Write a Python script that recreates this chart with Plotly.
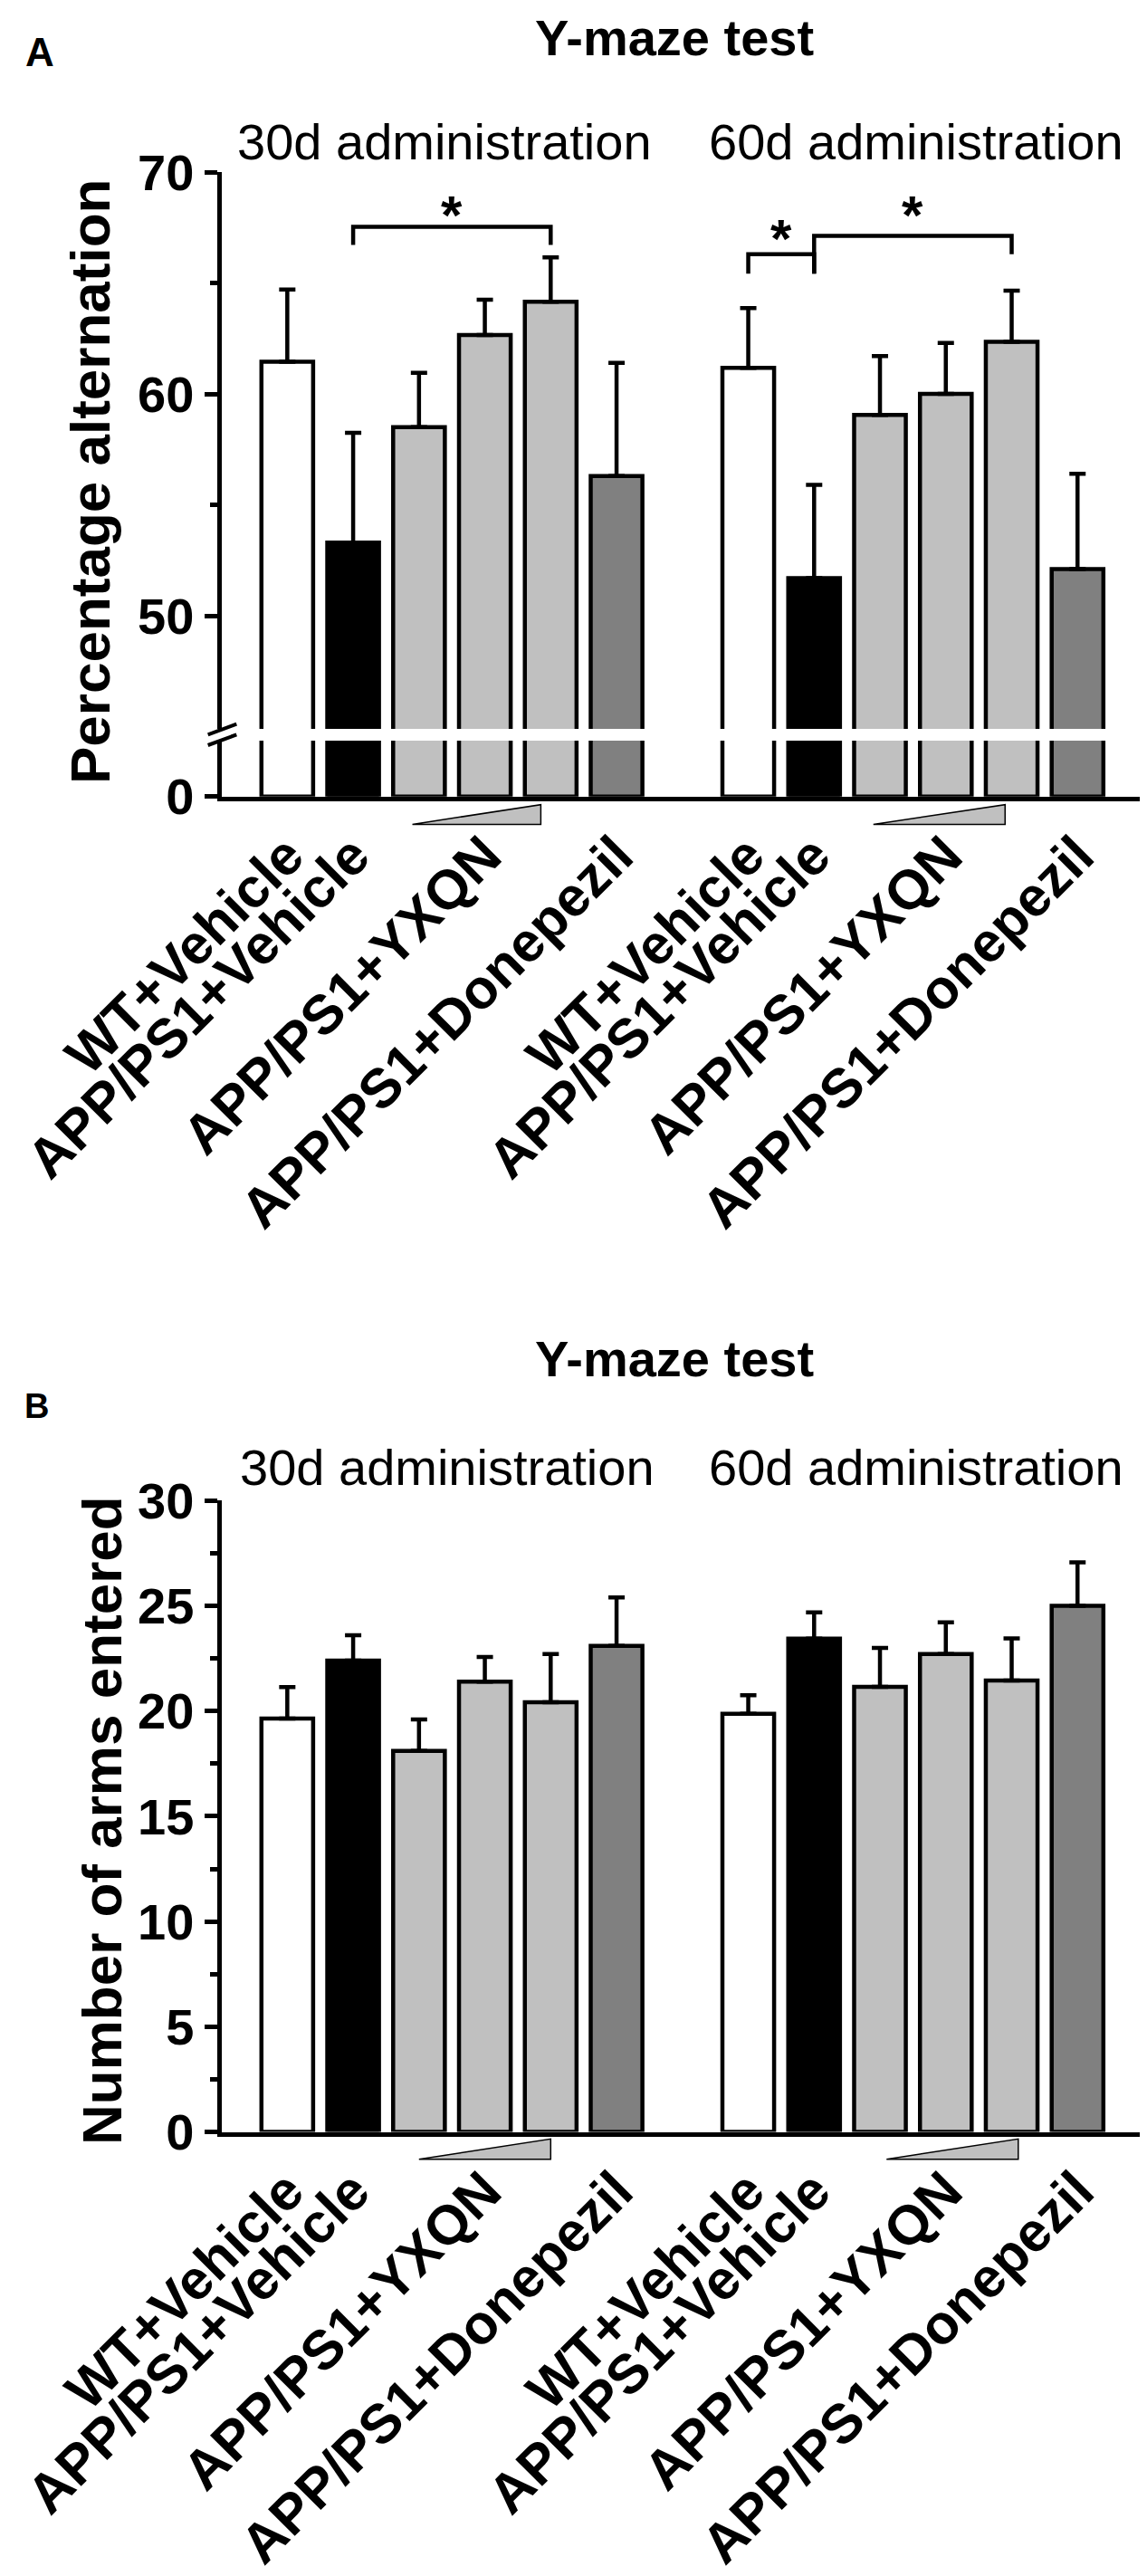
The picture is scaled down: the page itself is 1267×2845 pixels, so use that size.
import plotly.graph_objects as go

# group labels and bar positions (30d group left, 60d group right)
labels = ["WT+Vehicle", "APP/PS1+Vehicle", "APP/PS1+YXQN", "APP/PS1+Donepezil"]
bar_pos = [0, 1, 2, 3, 4, 5, 7, 8, 9, 10, 11, 12]
label_pos = [0, 1, 3, 5, 7, 8, 10, 12]
bar_colors = ["#ffffff", "#000000", "#c0c0c0", "#c0c0c0", "#c0c0c0", "#808080"] * 2

# A: percentage alternation (mean, SEM)
alt_mean = [61.45, 53.3, 58.5, 62.65, 64.15, 56.3,
            61.17, 51.7, 59.05, 60.0, 62.35, 52.1]
alt_sem = [3.25, 4.95, 2.45, 1.6, 2.0, 5.1,
           2.7, 4.2, 2.65, 2.3, 2.3, 4.3]

# B: number of arms entered (mean, SEM)
arms_mean = [19.64, 22.4, 18.1, 21.4, 20.42, 23.1,
             19.87, 23.44, 21.15, 22.71, 21.45, 25.0]
arms_sem = [1.5, 1.2, 1.5, 1.17, 2.29, 2.3,
            0.88, 1.25, 1.85, 1.5, 2.0, 2.07]

# significance brackets in panel A: x points, y points
brackets = [
    ([1, 1, 4, 4], [66.71, 67.53, 67.53, 66.71]),
    ([7, 7, 8, 8], [65.42, 66.30, 66.30, 65.42]),
    ([8, 8, 11, 11], [65.42, 67.12, 67.12, 66.30]),
]
stars_x = [2.5, 7.5, 9.5]
stars_y = [68.05, 66.99, 68.05]

W, H = 1267, 2845
FONT = "Liberation Sans, Arial, sans-serif"


def fx(p):
    return p / W


def fy(p):
    return 1 - p / H


x_dom = [fx(236.6), fx(1255)]
yA_up = [fy(797), fy(182)]
yA_lo = [fy(871.7), fy(810)]
yB = [fy(2346.5), fy(1649.3)]

fig = go.Figure()

bar_style = dict(width=0.785, marker=dict(color=bar_colors, line=dict(color="black", width=4.5)))
err_style = dict(type="data", symmetric=False, arrayminus=[0] * 12,
                 color="black", thickness=4.5, width=9)

# panel A, upper part of the broken axis
fig.add_trace(go.Bar(x=bar_pos, y=alt_mean, xaxis="x", yaxis="y",
                     error_y=dict(array=alt_sem, **err_style), **bar_style))
# panel A, lower stub
fig.add_trace(go.Bar(x=bar_pos, y=alt_mean, xaxis="x2", yaxis="y2", **bar_style))
# panel B
fig.add_trace(go.Bar(x=bar_pos, y=arms_mean, xaxis="x3", yaxis="y3",
                     error_y=dict(array=arms_sem, **err_style), **bar_style))

for bx, by in brackets:
    fig.add_trace(go.Scatter(x=bx, y=by, mode="lines", xaxis="x", yaxis="y",
                             line=dict(color="black", width=4.5), cliponaxis=False))

tickfont = dict(family=FONT, size=56, color="black", weight="bold")
labfont = dict(family=FONT, size=61, color="black", weight="bold")
yline = dict(showline=True, linecolor="black", linewidth=5, ticks="outside",
             ticklen=14, tickwidth=5, tickcolor="black", tickfont=tickfont,
             showgrid=False, zeroline=False, automargin=False)
xhidden = dict(range=[-1, 13], domain=x_dom, visible=False, showgrid=False, zeroline=False)
xshown = dict(range=[-1, 13], domain=x_dom, showline=True, linecolor="black", linewidth=5,
              ticks="", tickvals=label_pos, ticktext=labels * 2, tickangle=-45,
              tickfont=labfont, showgrid=False, zeroline=False, automargin=False)

fig.update_layout(
    width=W, height=H,
    margin=dict(l=0, r=0, t=0, b=0),
    paper_bgcolor="white", plot_bgcolor="white",
    showlegend=False, template="none",
    xaxis=dict(anchor="y", **xhidden),
    yaxis=dict(anchor="x", domain=yA_up, range=[44.9, 70], tickvals=[50, 60, 70],
               minor=dict(tickvals=[55, 65], ticks="outside", ticklen=8, tickwidth=5,
                          tickcolor="black"), **yline),
    xaxis2=dict(anchor="y2", **xshown),
    yaxis2=dict(anchor="x2", domain=yA_lo, range=[0, 2.518], tickvals=[0], **yline),
    xaxis3=dict(anchor="y3", **xshown),
    yaxis3=dict(anchor="x3", domain=yB, range=[0, 30], tickvals=[0, 5, 10, 15, 20, 25, 30],
                minor=dict(dtick=2.5, ticks="outside", ticklen=8, tickwidth=5,
                           tickcolor="black"), **yline),
)

ann = []


def text(s, x, y, size, bold=False, xanchor="center", angle=0):
    ann.append(dict(text=s, x=fx(x), y=fy(y), xref="paper", yref="paper",
                    xanchor=xanchor, yanchor="middle", showarrow=False, textangle=angle,
                    font=dict(family=FONT, size=size, color="black",
                              weight="bold" if bold else "normal")))


# panel A texts
text("A", 18, 50, 44, True, "left")
text("Y-maze test", 736.7, 33, 56, True)
text("30d administration", 252, 148.6, 56, False, "left")
text("60d administration", 773, 148.6, 56, False, "left")
text("Percentage alternation", 92, 524, 62, True, angle=-90)
# panel B texts
text("B", 17, 1545, 38, True, "left")
text("Y-maze test", 736.7, 1492, 56, True)
text("30d administration", 255, 1612.3, 56, False, "left")
text("60d administration", 773, 1612.3, 56, False, "left")
text("Number of arms entered", 104, 2003, 62, True, angle=-90)

for sx, sy in zip(stars_x, stars_y):
    ann.append(dict(text="*", x=sx, y=sy, xref="x", yref="y", showarrow=False,
                    yanchor="middle",
                    font=dict(family=FONT, size=60, color="black", weight="bold")))

fig.update_layout(annotations=ann)

shapes = []
# dose wedges under the YXQN bars
for xr, top, bot, x0, x1 in [("x2", 880.7, 902.4, 1.9, 3.85), ("x2", 880.7, 902.4, 8.9, 10.9),
                             ("x3", 2354.3, 2376.7, 2.0, 4.0), ("x3", 2354.3, 2376.7, 9.1, 11.1)]:
    shapes.append(dict(type="path", xref=xr, yref="paper",
                       path=f"M {x0},{fy(bot)} L {x1},{fy(bot)} L {x1},{fy(top)} Z",
                       fillcolor="#c0c0c0", line=dict(color="black", width=1.5)))
# axis break marks
for y0, y1 in [(803.3, 791.7), (815, 803.3)]:
    shapes.append(dict(type="line", xref="paper", yref="paper",
                       x0=fx(221.7), y0=fy(y0), x1=fx(253.3), y1=fy(y1),
                       line=dict(color="black", width=4)))
fig.update_layout(shapes=shapes)

fig.write_html("out.html")
